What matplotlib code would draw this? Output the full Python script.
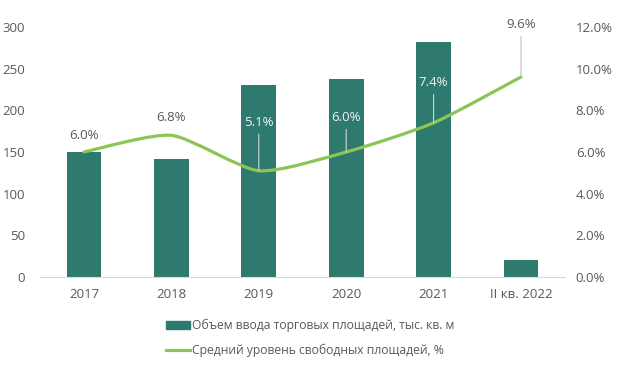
import matplotlib
matplotlib.use("Agg")
import matplotlib.pyplot as plt
import numpy as np
from matplotlib.path import Path
from matplotlib.patches import PathPatch, Patch
from matplotlib.lines import Line2D

categories = ["2017", "2018", "2019", "2020", "2021", "II кв. 2022"]
volume = [150, 142, 231, 238, 282, 21]
vacancy = [6.0, 6.8, 5.1, 6.0, 7.4, 9.6]
vacancy_labels = ["6.0%", "6.8%", "5.1%", "6.0%", "7.4%", "9.6%"]
left_ticks = [0, 50, 100, 150, 200, 250, 300]
right_ticks = [0, 2, 4, 6, 8, 10, 12]

BAR = "#2E7A6F"
LINE = "#8CC456"
TXT = "#595959"

plt.rcParams['font.family'] = ['Open Sans', 'DejaVu Sans']
plt.rcParams['font.size'] = 9.5

fig = plt.figure(figsize=(6.32, 3.74), dpi=100)
ax = fig.add_axes([40.3/632, 1-277/374, (564.7-40.3)/632, 250/374])
ax2 = ax.twinx()

x = np.arange(len(categories))
ax.bar(x, volume, width=0.4, color=BAR, zorder=2)
ax.set_xlim(-0.5, len(categories)-0.5)
ax.set_ylim(0, 300)
ax.set_yticks(left_ticks)
ax.set_xticks(x)
ax.set_xticklabels(categories)
ax2.set_ylim(0, 12)
ax2.set_yticks(right_ticks)
ax2.set_yticklabels([f"{v:.1f}%" for v in right_ticks])

for a in (ax, ax2):
    for s in a.spines.values():
        s.set_visible(False)
    a.tick_params(length=0, colors=TXT, labelsize=9.5)
ax.spines['bottom'].set_visible(True)
ax.spines['bottom'].set_color("#D9D9D9")
ax.tick_params(axis='x', pad=8)
ax.tick_params(axis='y', pad=11)
ax2.tick_params(axis='y', pad=8)

# smoothed line through data points (light Bezier smoothing)
pts = np.column_stack([x, vacancy]).astype(float)
verts = [tuple(pts[0])]
codes = [Path.MOVETO]
n = len(pts)
k = 1/9.0
for i in range(n-1):
    p0 = pts[i-1] if i > 0 else pts[i]
    p1 = pts[i]
    p2 = pts[i+1]
    p3 = pts[i+2] if i+2 < n else pts[i+1]
    c1 = p1 + (p2 - p0)*k
    c2 = p2 - (p3 - p1)*k
    verts += [tuple(c1), tuple(c2), tuple(p2)]
    codes += [Path.CURVE4]*3
ax2.add_patch(PathPatch(Path(verts, codes), fill=False, edgecolor=LINE, lw=2.3,
                        capstyle='round', joinstyle='round', zorder=3))

offsets = [12, 12.5, 35, 25, 29, 38]
inside = [False, False, True, True, True, False]
leader = [False, False, True, True, True, True]
for i, (v, lab) in enumerate(zip(vacancy, vacancy_labels)):
    col = "#F2F2F2" if inside[i] else TXT
    lcol = "#D0D8D6" if inside[i] else "#BFBFBF"
    ap = dict(arrowstyle='-', color=lcol, lw=0.8, shrinkA=2, shrinkB=0) if leader[i] else None
    ax2.annotate(lab, xy=(x[i], v), xytext=(0, offsets[i]), textcoords='offset points',
                 ha='center', va='center', color=col, fontsize=9.5,
                 arrowprops=ap, zorder=4)

handles = [Patch(facecolor=BAR, edgecolor=BAR),
           Line2D([0], [0], color=LINE, lw=2.3)]
labels = ["Объем ввода торговых площадей, тыс. кв. м",
          "Средний уровень свободных площадей, %"]
fig.legend(handles, labels, loc='upper left', bbox_to_anchor=(155/632, 1-308/374),
           frameon=False, handlelength=2.0, handletextpad=0.2, labelspacing=0.95,
           labelcolor=TXT, fontsize=8.7)

fig.savefig("out.png", dpi=100)
